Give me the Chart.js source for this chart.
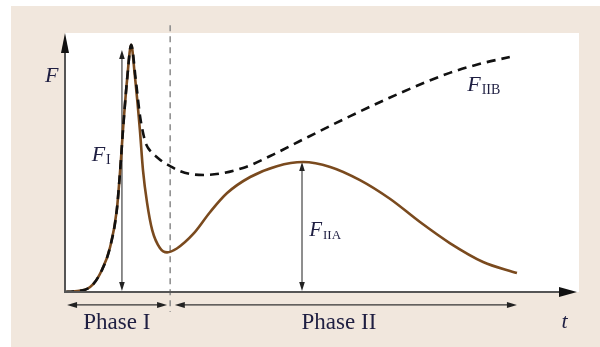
<!DOCTYPE html>
<html>
<head>
<meta charset="utf-8">
<script src="https://cdn.jsdelivr.net/npm/chart.js@4.4.0/dist/chart.umd.min.js"></script>
<style>
  html, body { margin: 0; padding: 0; background: #fff; }
  #wrap { width: 600px; height: 347px; position: relative; }
</style>
</head>
<body>
<div id="wrap"><canvas id="myChart"></canvas></div>
<script>
// solid curve F_IIA (t, F), arbitrary units 0..100
const tA = [0, 1.6, 4.9, 7.2, 8.8, 10.1, 10.9, 11.3, 12.1, 12.9, 13.6, 14.6, 15.2, 16.0, 17.0, 18.5, 19.9,
            21.8, 25.0, 28.3, 31.6, 36.1, 41.3, 46.4, 51.7, 57.5, 63.4, 69.2, 75.0, 81.5, 88.1];
const fA = [0, 0.2, 1.9, 8.5, 17.4, 31.7, 51.0, 62.5, 81.9, 95.4, 83.8, 62.5, 47.1, 34.4, 23.9, 17.0, 15.3,
            16.8, 22.4, 30.9, 38.2, 44.4, 48.6, 50.2, 48.3, 43.2, 35.9, 27.0, 18.9, 11.6, 7.3];
// dashed curve F_IIB
const tB = [0, 1.6, 4.9, 7.2, 8.8, 10.1, 10.9, 11.3, 12.1, 12.9, 13.8, 14.6, 15.6, 16.2, 17.0, 17.9, 19.1, 20.5,
            22.4, 25.0, 27.3, 34.7, 40.0, 45.8, 55.6, 65.3, 75.0, 81.5, 86.7];
const fB = [0, 0.2, 1.9, 8.5, 17.4, 31.7, 51.0, 62.5, 81.9, 95.4, 81.9, 68.3, 58.3, 55.6, 53.7, 52.1, 50.2, 48.6,
            46.7, 45.4, 45.2, 47.9, 52.5, 58.3, 67.9, 76.8, 84.6, 88.4, 90.7];
const phaseEnd = 20.5;   // end of phase I
const peakI = 93.4;      // F_I dimension top
const tPeakI = 11.1;
const tPeakII = 46.2;
const peakII = 50.2;

const ink = '#1f1f42';
const serif = '"Liberation Serif", "DejaVu Serif", serif';

function head(ctx, x, y, dx, dy, len, half) {
  // filled arrowhead with tip at (x,y), pointing along (dx,dy)
  const px = -dy, py = dx;
  ctx.beginPath();
  ctx.moveTo(x, y);
  ctx.lineTo(x - dx * len + px * half, y - dy * len + py * half);
  ctx.lineTo(x - dx * len - px * half, y - dy * len - py * half);
  ctx.closePath();
  ctx.fill();
}

function subLabel(ctx, x, y, main, sub, size, subSize) {
  ctx.font = 'italic ' + size + 'px ' + serif;
  ctx.textAlign = 'left';
  ctx.textBaseline = 'alphabetic';
  ctx.fillText(main, x, y);
  const w = ctx.measureText(main).width;
  if (sub) {
    ctx.font = subSize + 'px ' + serif;
    ctx.fillText(sub, x + w + 1, y + 3);
  }
}

const sketch = {
  id: 'sketch',
  beforeDraw(chart) {
    const { ctx, chartArea: a } = chart;
    ctx.save();
    ctx.fillStyle = '#ffffff';
    ctx.fillRect(0, 0, chart.width, chart.height);
    ctx.fillStyle = '#f1e7dd';
    ctx.fillRect(11, 6, chart.width - 11, chart.height - 6);
    ctx.fillStyle = '#ffffff';
    ctx.fillRect(a.left, a.top, a.right - a.left + 1, a.bottom - a.top);
    ctx.restore();
  },
  beforeDatasetsDraw(chart) {
    const { ctx } = chart;
    const x = chart.scales.x, y = chart.scales.y;
    ctx.save();
    // phase boundary
    ctx.strokeStyle = '#8a8a8a';
    ctx.lineWidth = 1.5;
    ctx.setLineDash([6, 5]);
    ctx.beginPath();
    ctx.moveTo(x.getPixelForValue(phaseEnd), y.getPixelForValue(103));
    ctx.lineTo(x.getPixelForValue(phaseEnd), y.getPixelForValue(-7.7));
    ctx.stroke();
    ctx.setLineDash([]);

    // dimension arrows F_I and F_IIA
    ctx.strokeStyle = '#444';
    ctx.fillStyle = '#222';
    ctx.lineWidth = 1.2;
    [[tPeakI, peakI], [tPeakII, peakII]].forEach(([t, f]) => {
      const px = x.getPixelForValue(t);
      const top = y.getPixelForValue(f), bot = y.getPixelForValue(0);
      ctx.beginPath();
      ctx.moveTo(px, top + 4);
      ctx.lineTo(px, bot - 4);
      ctx.stroke();
      head(ctx, px, top, 0, -1, 9, 2.8);
      head(ctx, px, bot - 1, 0, 1, 9, 2.8);
    });
    ctx.restore();
  },
  afterDraw(chart) {
    const { ctx } = chart;
    const x = chart.scales.x, y = chart.scales.y;
    const x0 = x.getPixelForValue(0), y0 = y.getPixelForValue(0);
    ctx.save();
    // axes
    ctx.strokeStyle = '#555';
    ctx.fillStyle = '#111';
    ctx.lineWidth = 2;
    ctx.beginPath();
    ctx.moveTo(x0, y0);
    ctx.lineTo(x0, y.getPixelForValue(100) + 12);
    ctx.moveTo(x0 - 1, y0);
    ctx.lineTo(x.getPixelForValue(100) - 12, y0);
    ctx.stroke();
    head(ctx, x0, y.getPixelForValue(100), 0, -1, 20, 4);
    head(ctx, x.getPixelForValue(100) - 1, y0, 1, 0, 18, 5);

    // phase arrows
    const py = y.getPixelForValue(-5);
    ctx.strokeStyle = '#333';
    ctx.fillStyle = '#222';
    ctx.lineWidth = 1.3;
    [[0.4, phaseEnd - 0.6], [phaseEnd + 0.9, 88.1]].forEach(([a, b]) => {
      const pa = x.getPixelForValue(a), pb = x.getPixelForValue(b);
      ctx.beginPath();
      ctx.moveTo(pa + 4, py);
      ctx.lineTo(pb - 4, py);
      ctx.stroke();
      head(ctx, pa, py, -1, 0, 10, 3);
      head(ctx, pb, py, 1, 0, 10, 3);
    });

    // texts
    ctx.fillStyle = ink;
    subLabel(ctx, x.getPixelForValue(-3.9), y.getPixelForValue(81), 'F', '', 22, 14);
    subLabel(ctx, x.getPixelForValue(5.2), y.getPixelForValue(50.6), 'F', 'I', 22, 14);
    subLabel(ctx, x.getPixelForValue(47.6), y.getPixelForValue(21.7), 'F', 'IIA', 21, 13);
    subLabel(ctx, x.getPixelForValue(78.4), y.getPixelForValue(77.6), 'F', 'IIB', 22, 14);
    subLabel(ctx, x.getPixelForValue(96.8), y.getPixelForValue(-14), 't', '', 22, 14);
    ctx.font = '23px ' + serif;
    ctx.textAlign = 'center';
    ctx.textBaseline = 'alphabetic';
    ctx.fillText('Phase I', x.getPixelForValue(10.1), y.getPixelForValue(-14.2));
    ctx.fillText('Phase II', x.getPixelForValue(53.4), y.getPixelForValue(-14.2));
    ctx.restore();
  }
};

const ctx = document.getElementById('myChart');
const myChart = new Chart(ctx, {
  type: 'line',
  data: {
    datasets: [
      {
        label: 'F_IIB',
        data: tB.map((t, i) => ({ x: t, y: fB[i] })),
        borderColor: '#111111',
        borderWidth: 2.6,
        borderDash: [9, 6],
        cubicInterpolationMode: 'monotone',
        order: 0
      },
      {
        label: 'F_IIA',
        data: tA.map((t, i) => ({ x: t, y: fA[i] })),
        borderColor: '#7a4a1e',
        borderWidth: 2.6,
        cubicInterpolationMode: 'monotone',
        order: 1
      }
    ]
  },
  options: {
    responsive: true,
    maintainAspectRatio: false,
    animation: false,
    layout: { padding: { left: 65, right: 22, top: 33, bottom: 55 } },
    elements: { point: { radius: 0 } },
    scales: {
      x: { type: 'linear', min: 0, max: 100, display: false },
      y: { min: 0, max: 100, display: false }
    },
    plugins: { legend: { display: false }, tooltip: { enabled: false } }
  },
  plugins: [sketch]
});
</script>
</body>
</html>
